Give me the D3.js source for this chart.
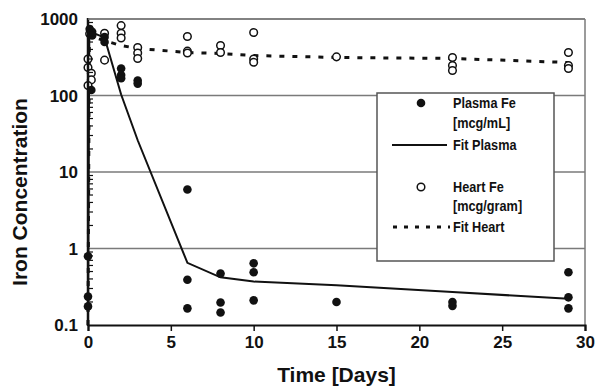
<!DOCTYPE html>
<html>
<head>
<meta charset="utf-8">
<script src="https://cdn.jsdelivr.net/npm/d3@7"></script>
<style>
  body { margin: 0; background: #fff; }
  text { font-family: Arial, "Liberation Sans", Helvetica, sans-serif; font-weight: bold; fill: #111; }
</style>
</head>
<body>
<div id="chart"></div>
<script>
// plasma iron, mcg/mL (filled dots)
var plasmaT = [0, 0, 0, 0.1, 0.25, 0.25, 0.2, 1, 1, 2, 2, 2, 3, 3, 6, 6, 6, 8, 8, 8, 10, 10, 10, 15, 22, 22, 22, 29, 29, 29];
var plasmaV = [0.79, 0.235, 0.175, 740, 680, 610, 118, 580, 500, 225, 185, 168, 157, 143, 5.9, 0.39, 0.165, 0.47, 0.197, 0.146, 0.64, 0.49, 0.21, 0.20, 0.78, 0.20, 0.178, 0.49, 0.23, 0.165];

// heart iron, mcg/gram (open circles)
var heartT = [0, 0, 0.2, 0.2, 0, 0.1, 1, 1, 2, 2, 2, 3, 3, 3, 6, 6, 6, 8, 8, 10, 10, 10, 15, 22, 22, 22, 29, 29, 29];
var heartV = [300, 232, 195, 160, 135, 640, 650, 290, 820, 650, 565, 425, 360, 305, 590, 380, 360, 450, 365, 665, 300, 272, 320, 314, 247, 212, 365, 247, 225];

// fitted curves
var fitT = [0, 0.08, 1, 2, 3, 6, 8, 10, 15, 22, 29];
var fitPlasma = [0.1, 690, 570, 103, 26, 0.65, 0.42, 0.37, 0.33, 0.27, 0.22];
var fitHeart = [0.1, 600, 520, 450, 412, 365, 354, 333, 314, 305, 270];

var xTicks = [0, 5, 10, 15, 20, 25, 30];
var yTicks = [0.1, 1, 10, 100, 1000];

var W = 597, H = 387;
var pL = 88, pR = 585, pT = 19, pB = 325;

var svg = d3.select("#chart").append("svg")
  .attr("width", W)
  .attr("height", H);

var x = d3.scaleLinear().domain([0, 30]).range([pL, pR]);
var y = d3.scaleLog().domain([0.1, 1000]).range([pB, pT]);

// gridlines at decades
svg.append("g")
  .selectAll("line")
  .data(yTicks.slice(1))
  .enter().append("line")
  .attr("x1", pL).attr("x2", pR)
  .attr("y1", function(d) { return y(d); })
  .attr("y2", function(d) { return y(d); })
  .attr("stroke", "#7a7a7a")
  .attr("stroke-width", 1.5);

// right border
svg.append("line")
  .attr("x1", pR).attr("x2", pR)
  .attr("y1", pT).attr("y2", pB)
  .attr("stroke", "#7a7a7a")
  .attr("stroke-width", 1.5);

// fit lines
var line = d3.line()
  .x(function(d) { return x(d[0]); })
  .y(function(d) { return y(d[1]); });

svg.append("path")
  .datum(d3.zip(fitT, fitHeart))
  .attr("fill", "none")
  .attr("stroke", "#111")
  .attr("stroke-width", 3)
  .attr("stroke-dasharray", "5,8")
  .attr("d", line);

svg.append("path")
  .datum(d3.zip(fitT, fitPlasma))
  .attr("fill", "none")
  .attr("stroke", "#111")
  .attr("stroke-width", 2)
  .attr("d", line);

// points
svg.append("g")
  .selectAll("circle")
  .data(d3.zip(heartT, heartV))
  .enter().append("circle")
  .attr("cx", function(d) { return x(d[0]); })
  .attr("cy", function(d) { return y(d[1]); })
  .attr("r", 3.8)
  .attr("fill", "#fff")
  .attr("stroke", "#111")
  .attr("stroke-width", 1.5);

svg.append("g")
  .selectAll("circle")
  .data(d3.zip(plasmaT, plasmaV))
  .enter().append("circle")
  .attr("cx", function(d) { return x(d[0]); })
  .attr("cy", function(d) { return y(d[1]); })
  .attr("r", 4.3)
  .attr("fill", "#111");

// y axis, minor ticks pointing inward
var minor = [];
for (var e = -1; e < 3; e++) {
  for (var m = 2; m <= 9; m++) minor.push(m * Math.pow(10, e));
}
var yAxis = svg.append("g").attr("transform", "translate(" + pL + ",0)");
yAxis.selectAll(".minor")
  .data(minor)
  .enter().append("line")
  .attr("x1", 0).attr("x2", 5)
  .attr("y1", function(d) { return y(d); })
  .attr("y2", function(d) { return y(d); })
  .attr("stroke", "#111")
  .attr("stroke-width", 1.2);
yAxis.append("line")
  .attr("y1", pT - 1).attr("y2", pB + 1)
  .attr("stroke", "#111").attr("stroke-width", 2.5);
yAxis.append("line")
  .attr("x1", 0).attr("x2", pR - pL)
  .attr("y1", pT).attr("y2", pT)
  .attr("stroke", "#7a7a7a").attr("stroke-width", 1.5);
yAxis.selectAll(".lab")
  .data(yTicks)
  .enter().append("text")
  .attr("x", -10)
  .attr("y", function(d) { return y(d); })
  .attr("dy", "0.36em")
  .attr("text-anchor", "end")
  .style("font-size", "17px")
  .text(function(d) { return d3.format("~g")(d); });

// x axis
var xAxis = d3.axisBottom(x).tickValues(xTicks).tickSize(6).tickPadding(5);
var gx = svg.append("g")
  .attr("transform", "translate(0," + pB + ")")
  .call(xAxis);
gx.select(".domain").attr("stroke", "#111").attr("stroke-width", 2.2);
gx.selectAll(".tick line").attr("stroke", "#111").attr("stroke-width", 1.5);
gx.selectAll(".tick text")
  .attr("font-family", null)
  .style("font-size", "17px")
  .attr("fill", null);

// axis titles
svg.append("text")
  .attr("x", (pL + pR) / 2)
  .attr("y", 382)
  .attr("text-anchor", "middle")
  .style("font-size", "21px")
  .text("Time [Days]");

svg.append("text")
  .attr("transform", "translate(27,192) rotate(-90)")
  .attr("text-anchor", "middle")
  .style("font-size", "21px")
  .text("Iron Concentration");

// legend
var legend = svg.append("g").attr("class", "legend");
legend.append("rect")
  .attr("x", 377).attr("y", 93)
  .attr("width", 177).attr("height", 168)
  .attr("fill", "#fff")
  .attr("stroke", "#555")
  .attr("stroke-width", 1.5);

legend.append("circle").attr("cx", 421).attr("cy", 103).attr("r", 4.3).attr("fill", "#111");
legend.append("circle").attr("cx", 421).attr("cy", 187).attr("r", 3.8)
  .attr("fill", "#fff").attr("stroke", "#111").attr("stroke-width", 1.5);
legend.append("line").attr("x1", 392).attr("x2", 447).attr("y1", 145).attr("y2", 145)
  .attr("stroke", "#111").attr("stroke-width", 2);
legend.append("line").attr("x1", 393).attr("x2", 450).attr("y1", 227).attr("y2", 227)
  .attr("stroke", "#111").attr("stroke-width", 3).attr("stroke-dasharray", "4,7");

var legendText = [
  ["Plasma Fe", 108], ["[mcg/mL]", 128], ["Fit Plasma", 150],
  ["Heart Fe", 192], ["[mcg/gram]", 211], ["Fit Heart", 232]
];
// the legend font is a condensed face: squeeze horizontally
legend.append("g")
  .attr("transform", "translate(453,0) scale(0.82,1)")
  .selectAll("text")
  .data(legendText)
  .enter().append("text")
  .attr("x", 0)
  .attr("y", function(d) { return d[1]; })
  .style("font-size", "15.5px")
  .text(function(d) { return d[0]; });
</script>
</body>
</html>
